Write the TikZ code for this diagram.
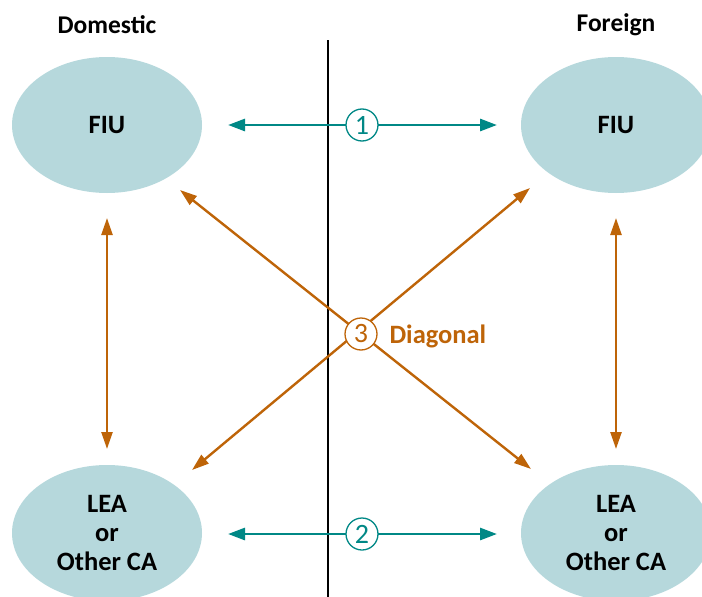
\documentclass[tikz,border=0pt]{standalone}
\usepackage{fontspec}
\setmainfont{Carlito}
\usetikzlibrary{arrows.meta,shapes.geometric}
\definecolor{tealline}{RGB}{0,136,134}
\definecolor{ochre}{RGB}{190,100,8}
\definecolor{bubble}{RGB}{182,216,220}
\begin{document}
\begin{tikzpicture}[x=1pt,y=-1pt,
  agency/.style={ellipse, fill=bubble, minimum width=190pt, minimum height=136pt, inner sep=0pt,
                 font=\fontsize{26.5}{30}\selectfont\bfseries, align=center},
  heading/.style={font=\fontsize{25.5}{28}\selectfont\bfseries},
  teallink/.style={tealline, line width=2.8pt, {Triangle[length=17pt,width=12pt]}-{Triangle[length=17pt,width=12pt]}},
  ochrelink/.style={ochre, line width=2.4pt, {Triangle[length=17pt,width=11pt]}-{Triangle[length=17pt,width=11pt]}},
  badge/.style={circle, draw, line width=1.3pt, fill=white, minimum size=32pt, inner sep=0pt,
                font=\fontsize{28}{30}\selectfont}]
\useasboundingbox (0,0) rectangle (702,597);
\begin{scope}
\clip (0,0) rectangle (702,597);
% agencies on each side of the border
\node[agency] (fiuD) at (107,125) {FIU};
\node[agency] (fiuF) at (616,125) {FIU};
\node[agency] (leaD) at (107,533) {LEA\\[-1pt]or\\[-1pt]Other CA};
\node[agency] (leaF) at (616,533) {LEA\\[-1pt]or\\[-1pt]Other CA};
\end{scope}
% headings
\node[heading] (dom) at (107,25) {Domestic};
\node[heading] (for) at (616,25) {Foreign};
% border between the jurisdictions
\coordinate (bTop) at (328,40);
\coordinate (bBot) at (328,597);
\draw[line width=1.8pt] (bTop) -- (bBot);
% endpoints of the links
\coordinate (h1L) at (228,125);
\coordinate (h1R) at (497,125);
\coordinate (h2L) at (228,534);
\coordinate (h2R) at (497,534);
\coordinate (vLt) at (107,218);
\coordinate (vLb) at (107,449);
\coordinate (vRt) at (616,218);
\coordinate (vRb) at (616,449);
\coordinate (dA1) at (180,190);
\coordinate (dA2) at (531,469);
\coordinate (dB1) at (530,188);
\coordinate (dB2) at (192,470);
% links
\draw[teallink] (h1L) -- (h1R);
\draw[teallink] (h2L) -- (h2R);
\draw[ochrelink] (vLt) -- (vLb);
\draw[ochrelink] (vRt) -- (vRb);
\draw[ochrelink] (dA1) -- (dA2);
\draw[ochrelink] (dB1) -- (dB2);
% numbered badges
\node[badge, draw=tealline, text=tealline] (n1) at (362,125) {1};
\node[badge, draw=tealline, text=tealline] (n2) at (362,534) {2};
\node[badge, draw=ochre, text=ochre] (n3) at (361,334) {3};
\node[anchor=west, text=ochre, font=\fontsize{26.5}{30}\selectfont\bfseries] (diag) at (386,336) {Diagonal};
\end{tikzpicture}
\end{document}
